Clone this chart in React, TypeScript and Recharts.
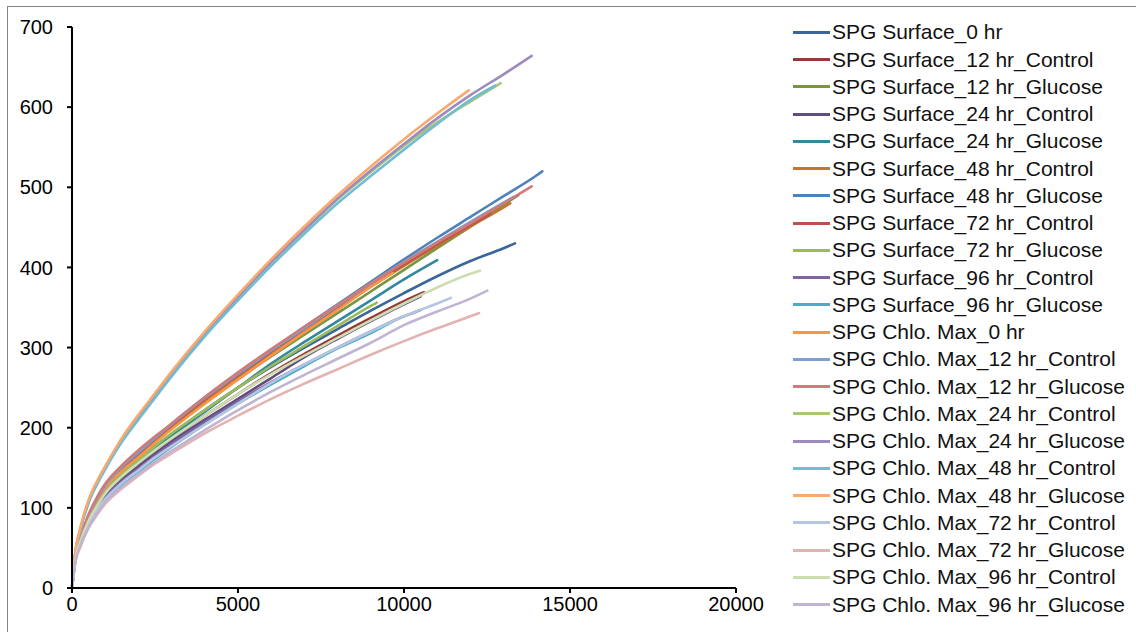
import { LineChart, Line, XAxis, YAxis } from "recharts";

const FONT = "'Liberation Sans', Arial, sans-serif";

// sequencing depth sampled for every curve (values below are read at these x)
const X_GRID = [0, 100, 250, 500, 750, 1000, 1500, 2000, 2500, 3000, 4000, 5000, 6000, 7000, 8000, 9000, 10000, 11000, 12000, 13000, 14000];

const SERIES_NAMES = [
  "SPG Surface_0 hr",
  "SPG Surface_12 hr_Control",
  "SPG Surface_12 hr_Glucose",
  "SPG Surface_24 hr_Control",
  "SPG Surface_24 hr_Glucose",
  "SPG Surface_48 hr_Control",
  "SPG Surface_48 hr_Glucose",
  "SPG Surface_72 hr_Control",
  "SPG Surface_72 hr_Glucose",
  "SPG Surface_96 hr_Control",
  "SPG Surface_96 hr_Glucose",
  "SPG Chlo. Max_0 hr",
  "SPG Chlo. Max_12 hr_Control",
  "SPG Chlo. Max_12 hr_Glucose",
  "SPG Chlo. Max_24 hr_Control",
  "SPG Chlo. Max_24 hr_Glucose",
  "SPG Chlo. Max_48 hr_Control",
  "SPG Chlo. Max_48 hr_Glucose",
  "SPG Chlo. Max_72 hr_Control",
  "SPG Chlo. Max_72 hr_Glucose",
  "SPG Chlo. Max_96 hr_Control",
  "SPG Chlo. Max_96 hr_Glucose",
];

const SERIES_COLORS = [
  "#3A6699", "#973A37", "#789540", "#614C7E", "#33879E", "#C4752F",
  "#4F81BD", "#C0504D", "#9BBB59", "#8064A2", "#4BACC6", "#F79646",
  "#7E9FCF", "#CF7B79", "#AAC774", "#9E8BBE", "#70BDD2", "#F9A86E",
  "#B3C6E1", "#E3B3B2", "#CDDDB2", "#C0B4D3",
];

// last sampled depth of each curve
const END_X = [
  13343, 10602, 13441, 10500, 11000, 13200, 14167, 12600, 9178, 10500, 9678,
  9660, 13300, 13845, 12913, 13846, 12750, 11950, 11416, 12259, 12289, 12508,
];

// observed OTUs, one value per X_GRID point below END_X, last value is at END_X
const surface0 = [0, 36, 58, 85, 104, 120, 142, 160, 177, 192, 222, 250, 276, 300, 323, 346, 368, 389, 408, 424, 430];
const surface12Control = [0, 36, 57, 83, 101, 117, 138, 155, 172, 187, 215, 242, 268, 292, 315, 337, 358, 369];
const surface12Glucose = [0, 38, 60, 88, 108, 125, 147, 165, 183, 200, 232, 261, 289, 316, 343, 370, 397, 424, 451, 478, 490];
const surface24Control = [0, 35, 56, 82, 100, 115, 135, 152, 168, 183, 210, 236, 262, 288, 311, 333, 354, 364];
const surface24Glucose = [0, 36, 58, 84, 103, 119, 140, 157, 174, 190, 220, 250, 280, 307, 333, 359, 385, 409];
const surface48Control = [0, 38, 60, 89, 109, 126, 148, 166, 184, 201, 233, 263, 292, 320, 348, 376, 402, 427, 451, 475, 480];
const surface48Glucose = [0, 38, 61, 90, 111, 128, 150, 168, 187, 205, 238, 268, 297, 326, 354, 382, 410, 437, 463, 489, 515, 520];
const surface72Control = [0, 38, 61, 90, 110, 127, 150, 168, 186, 203, 236, 266, 295, 323, 350, 378, 404, 429, 453, 467];
const surface72Glucose = [0, 36, 58, 85, 104, 120, 142, 160, 177, 193, 222, 250, 277, 302, 327, 352, 356];
const surface96Control = [0, 34, 55, 80, 98, 113, 133, 149, 165, 180, 207, 233, 257, 279, 300, 320, 339, 347];
const surface96Glucose = [0, 34, 54, 78, 95, 110, 129, 145, 161, 176, 204, 230, 254, 277, 299, 318, 333];
const chlo0 = [0, 38, 60, 88, 108, 125, 146, 163, 181, 198, 230, 260, 290, 319, 347, 376, 393];
const chlo12Control = [0, 38, 61, 90, 111, 128, 151, 169, 187, 204, 237, 267, 296, 324, 352, 380, 407, 432, 457, 481, 488];
const chlo12Glucose = [0, 39, 63, 92, 113, 130, 153, 172, 189, 205, 238, 269, 298, 326, 353, 380, 406, 431, 455, 480, 501];
const chlo24Control = [0, 44, 73, 108, 131, 150, 184, 213, 240, 267, 317, 363, 406, 446, 485, 519, 552, 581, 607, 630];
const chlo24Glucose = [0, 44, 73, 108, 131, 150, 184, 213, 240, 267, 317, 363, 407, 447, 486, 521, 554, 586, 615, 641, 664];
const chlo48Control = [0, 43, 72, 106, 129, 148, 182, 210, 237, 264, 314, 359, 402, 442, 480, 514, 547, 579, 609, 627];
const chlo48Glucose = [0, 45, 75, 110, 133, 152, 187, 216, 243, 270, 320, 366, 410, 451, 490, 526, 560, 592, 621];
const chlo72Control = [0, 34, 55, 79, 97, 111, 131, 147, 163, 177, 204, 230, 256, 279, 300, 320, 339, 355, 362];
const chlo72Glucose = [0, 32, 51, 75, 91, 105, 124, 140, 155, 168, 193, 215, 236, 255, 273, 291, 308, 324, 339, 343];
const chlo96Control = [0, 36, 58, 84, 102, 118, 139, 156, 172, 187, 215, 242, 267, 290, 312, 334, 355, 375, 392, 396];
const chlo96Glucose = [0, 33, 53, 76, 93, 107, 126, 142, 157, 171, 197, 222, 245, 266, 286, 306, 328, 345, 361, 371];

const SERIES_VALUES = [
  surface0, surface12Control, surface12Glucose, surface24Control, surface24Glucose,
  surface48Control, surface48Glucose, surface72Control, surface72Glucose,
  surface96Control, surface96Glucose, chlo0, chlo12Control, chlo12Glucose,
  chlo24Control, chlo24Glucose, chlo48Control, chlo48Glucose, chlo72Control,
  chlo72Glucose, chlo96Control, chlo96Glucose,
];

const X_TICKS = [0, 5000, 10000, 15000, 20000];
const Y_TICKS = [0, 100, 200, 300, 400, 500, 600, 700];

function buildPoints(values: number[], endX: number) {
  const pts = X_GRID.filter((x) => x < endX).map((x, i) => ({ x, y: values[i] }));
  pts.push({ x: endX, y: values[values.length - 1] });
  return pts;
}

const series = SERIES_NAMES.map((name, i) => ({
  name,
  color: SERIES_COLORS[i],
  data: buildPoints(SERIES_VALUES[i], END_X[i]),
}));

const axisStyle = { stroke: "#000", strokeWidth: 2 };
const tickStyle = { fill: "#000", fontSize: 20, fontFamily: FONT };

export default function App() {
  return (
    <div style={{ position: "absolute", left: 0, top: 0, width: 1136, height: 632, background: "#fff" }}>
      <div
        style={{
          position: "absolute",
          left: 7,
          top: 6,
          right: 0,
          bottom: 0,
          borderTop: "1px solid #858585",
          borderLeft: "1px solid #858585",
        }}
      />
      <div style={{ position: "absolute", left: 0, top: 0 }}>
        <LineChart width={1136} height={632} margin={{ top: 27, right: 400, bottom: 14, left: 10 }}>
          <XAxis
            type="number"
            dataKey="x"
            domain={[0, 20000]}
            ticks={X_TICKS}
            interval={0}
            height={30}
            axisLine={axisStyle}
            tickLine={axisStyle}
            tickSize={5}
            tickMargin={4}
            tick={tickStyle}
            allowDuplicatedCategory={false}
          />
          <YAxis
            type="number"
            domain={[0, 700]}
            ticks={Y_TICKS}
            interval={0}
            width={62}
            axisLine={axisStyle}
            tickLine={axisStyle}
            tickSize={5}
            tickMargin={14}
            tick={tickStyle}
          />
          {series.map((s) => (
            <Line
              key={s.name}
              data={s.data}
              dataKey="y"
              name={s.name}
              type="monotone"
              stroke={s.color}
              strokeWidth={2.6}
              strokeLinecap="round"
              dot={false}
              activeDot={false}
              isAnimationActive={false}
            />
          ))}
        </LineChart>
      </div>
      <div style={{ position: "absolute", left: 793, top: 18.7, fontFamily: FONT, fontSize: 21, color: "#111" }}>
        {series.map((s) => (
          <div key={s.name} style={{ height: 27.26, display: "flex", alignItems: "center", whiteSpace: "nowrap" }}>
            <span style={{ display: "inline-block", width: 37, height: 3, background: s.color, marginRight: 2 }} />
            <span>{s.name}</span>
          </div>
        ))}
      </div>
    </div>
  );
}
